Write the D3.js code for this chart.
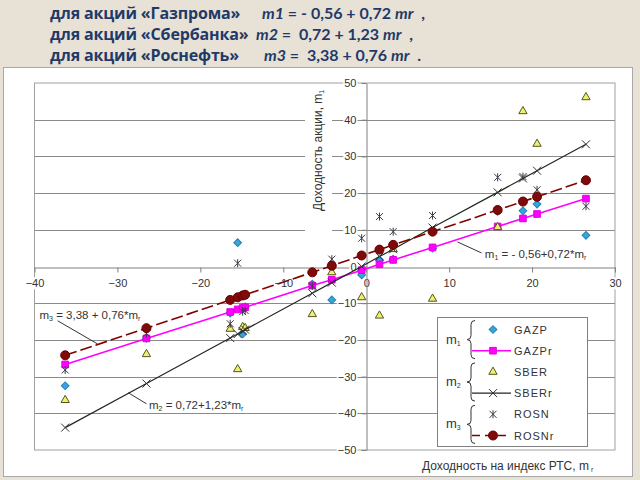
<!DOCTYPE html>
<html>
<head>
<meta charset="utf-8">
<script src="https://cdn.jsdelivr.net/npm/d3@7"></script>
<style>
	body { margin: 0; background: #e8e1d6; }
	svg { display: block; }
	.tick text { font-family: "Liberation Sans", Arial, sans-serif; font-size: 11px; fill: #333; }
</style>
</head>
<body>
<div id="chart-area"></div>
<script>

// Returns of the RTS index (x) and of the three stocks
var marketReturn = [-36.3, -26.5, -16.4, -15.5, -14.9, -14.6, -6.5, -4.15, -0.55, 1.6, 3.25, 8.0, 15.85, 18.9, 20.6, 26.5];
var gazp = [-32.5, -19.5, -12.7, 6.5, -18.4, -11.0, -4.8, -9.1, -2.3, 1.8, 2.0, 5.0, 15.0, 15.2, 17.0, 8.5];
var sber = [-36.4, -23.9, -17.0, -28.0, -16.5, -16.8, -13.0, -1.6, -8.4, -13.4, 4.7, -8.8, 10.7, 42.3, 33.4, 46.1];
var rosn = [-28.2, -18.2, -15.6, 0.9, -12.3, -12.0, -5.3, 2.0, 7.7, 13.6, 9.5, 13.9, 24.3, 24.5, 20.9, 16.4];

// fitted (regression) values as drawn on the chart
var gazpFit = [-26.7, -19.6, -12.4, -11.7, -11.3, -11.1, -5.2, -3.6, -1.0, 0.6, 1.8, 5.2, 10.9, 13.1, 14.3, 18.5];
var sberFit = [-43.9, -31.9, -19.5, -18.4, -17.6, -17.2, -7.3, -4.4, 0.0, 2.7, 4.7, 10.6, 20.2, 24.0, 26.1, 33.3];
var rosnFit = [-24.2, -16.8, -9.1, -8.4, -7.9, -7.7, -1.6, 0.2, 3.0, 4.6, 5.9, 9.5, 15.4, 17.7, 19.0, 23.5];

var xTicks = [-40, -30, -20, -10, 0, 10, 20, 30];
var yTicks = [-50, -40, -30, -20, -10, 0, 10, 20, 30, 40, 50];

var titleCompanies = ["для акций «Газпрома»", "для акций «Сбербанка»", "для акций «Роснефть»"];
var titleEquations = [
	[["m1", true], [" = - 0,56 + 0,72 ", false], ["mr", true], ["  ,", false]],
	[["m2", true], [" =  0,72 + 1,23 ", false], ["mr", true], ["  ,", false]],
	[["m3", true], [" =  3,38 + 0,76 ", false], ["mr", true], ["  .", false]]
];

var seriesNames = ["GAZP", "GAZPr", "SBER", "SBERr", "ROSN", "ROSNr"];
var groupNames = ["1", "2", "3"];

// labels next to the fitted lines: [text before sub, sub, text after, sub, x, y, leader x1, y1, x2, y2] in data units
var notes = [
	["m", "1", " = - 0,56+0,72*m", "r", 14.3, 2.4, 13.9, 3.7, 11.0, 6.7],
	["m", "3", " = 3,38 + 0,76*m", "r", -39.4, -14.3, -37.2, -14.8, -32.4, -21.1],
	["m", "2", " = 0,72+1,23*m", "r", -26.2, -38.9, -26.5, -37.4, -28.7, -34.4]
];

var font = "'Liberation Sans', Arial, sans-serif";

var svg = d3.select("#chart-area").append("svg")
	.attr("width", 640)
	.attr("height", 480);

svg.append("rect")
	.attr("width", 640).attr("height", 480)
	.attr("fill", "#e8e1d6");

// title lines
var titles = svg.append("g")
	.attr("font-weight", "bold")
	.attr("fill", "#1f3a68");
var eqX = [262, 256, 264];
titleCompanies.forEach(function(t, i) {
	var yy = 18.5 + i * 21;
	titles.append("text")
		.attr("x", 50).attr("y", yy)
		.attr("font-family", "'Open Sans', sans-serif")
		.attr("font-size", 16)
		.attr("letter-spacing", -0.15)
		.text(t);
	var eq = titles.append("text")
		.attr("x", eqX[i]).attr("y", yy)
		.attr("font-family", "Lato, sans-serif")
		.attr("font-size", 16)
		.attr("xml:space", "preserve");
	titleEquations[i].forEach(function(p) {
		eq.append("tspan")
			.attr("font-style", p[1] ? "italic" : "normal")
			.text(p[0]);
	});
});

// white frame of the chart
svg.append("rect")
	.attr("x", 3.5).attr("y", 67.5)
	.attr("width", 629).attr("height", 409)
	.attr("fill", "white")
	.attr("stroke", "#a8a8a8");

var x = d3.scaleLinear().domain([-40, 30]).range([34.5, 615]);
var y = d3.scaleLinear().domain([-50, 50]).range([450, 83]);

// gridlines
svg.append("g").selectAll("line")
	.data(yTicks.filter(function(d) { return d !== 0 && Math.abs(d) !== 50; }))
	.enter().append("line")
	.attr("x1", x(-40)).attr("x2", x(30))
	.attr("y1", function(d) { return Math.round(y(d)) + 0.5; })
	.attr("y2", function(d) { return Math.round(y(d)) + 0.5; })
	.attr("stroke", "#8a8a8a");

svg.append("rect")
	.attr("x", x(-40)).attr("y", y(50))
	.attr("width", x(30) - x(-40)).attr("height", y(-50) - y(50))
	.attr("fill", "none")
	.attr("stroke", "#a0a0a0");

// box behind the y axis title
svg.append("rect")
	.attr("x", 305).attr("y", y(50) + 1)
	.attr("width", 27).attr("height", 153)
	.attr("fill", "white");

var xAxis = d3.axisBottom(x).tickValues(xTicks).tickSize(5).tickSizeOuter(0).tickPadding(7)
	.tickFormat(d3.format("d"));
var yAxis = d3.axisLeft(y).tickValues(yTicks).tickSize(5).tickSizeOuter(0).tickPadding(5)
	.tickFormat(d3.format("d"));

var gx = svg.append("g")
	.attr("transform", "translate(0," + (Math.round(y(0)) + 0.5) + ")")
	.call(xAxis);
var gy = svg.append("g")
	.attr("transform", "translate(" + (Math.round(x(0)) + 0.5) + ",0)")
	.call(yAxis);

[gx, gy].forEach(function(g) {
	g.select(".domain").attr("stroke", "#808080");
	g.selectAll(".tick line").attr("stroke", "#808080");
	g.selectAll("text").attr("font-family", null).attr("font-size", null);
	g.selectAll(".tick").each(function() {
		var t = d3.select(this).select("text");
		var b = t.node().getBBox();
		d3.select(this).insert("rect", "text")
			.attr("x", b.x - 1).attr("y", b.y)
			.attr("width", b.width + 2).attr("height", b.height)
			.attr("fill", "white");
	});
});

// marker shapes
var diamond = d3.symbol(d3.symbolSquare, 30)();
var square = d3.symbol(d3.symbolSquare, 44)();
var triangle = d3.symbol(d3.symbolTriangle, 30)();
var cross = "M-4,-4L4,4M-4,4L4,-4";
var star = "M-3.5,-3.5L3.5,3.5M-3.5,3.5L3.5,-3.5M0,-4L0,4";

var styles = {
	GAZP: { path: diamond, rot: 45, fill: "#38a4da", stroke: "#2483b8" },
	GAZPr: { path: square, rot: 0, fill: "#ff00ff", stroke: "#e000e0", line: "#ff00ff", width: 1.6 },
	SBER: { path: triangle, rot: 0, fill: "#eef070", stroke: "#55561e" },
	SBERr: { path: cross, rot: 0, fill: "none", stroke: "#303030", line: "#1d2a1d", width: 1.2 },
	ROSN: { path: star, rot: 0, fill: "none", stroke: "#3c3848" },
	ROSNr: { path: null, rot: 0, fill: "#7f0a0a", stroke: "#6a0000", line: "#800000", width: 1.6, dash: "12,4" }
};

var seriesValues = {
	GAZP: gazp, GAZPr: gazpFit, SBER: sber, SBERr: sberFit, ROSN: rosn, ROSNr: rosnFit
};

var line = d3.line()
	.x(function(d) { return x(d[0]); })
	.y(function(d) { return y(d[1]); });

seriesNames.forEach(function(name) {
	var s = styles[name];
	var pts = marketReturn.map(function(m, i) { return [m, seriesValues[name][i]]; });
	var g = svg.append("g");
	if (s.line) {
		g.append("path")
			.attr("d", line(pts))
			.attr("fill", "none")
			.attr("stroke", s.line)
			.attr("stroke-width", s.width)
			.attr("stroke-dasharray", s.dash || null);
	}
	if (s.path) {
		g.selectAll("path.mark")
			.data(pts)
			.enter().append("path")
			.attr("class", "mark")
			.attr("d", s.path)
			.attr("transform", function(d) { return "translate(" + x(d[0]) + "," + y(d[1]) + ") rotate(" + s.rot + ")"; })
			.attr("fill", s.fill)
			.attr("stroke", s.stroke)
			.attr("stroke-width", 1);
	} else {
		g.selectAll("circle")
			.data(pts)
			.enter().append("circle")
			.attr("cx", function(d) { return x(d[0]); })
			.attr("cy", function(d) { return y(d[1]); })
			.attr("r", 4.5)
			.attr("fill", s.fill)
			.attr("stroke", s.stroke);
	}
});

// labels of the fitted lines
notes.forEach(function(n) {
	svg.append("line")
		.attr("x1", x(n[6])).attr("y1", y(n[7]))
		.attr("x2", x(n[8])).attr("y2", y(n[9]))
		.attr("stroke", "#333");
	var t = svg.append("text")
		.attr("x", x(n[4])).attr("y", y(n[5]))
		.attr("font-family", font)
		.attr("font-size", 11.5)
		.attr("fill", "#333")
		.attr("xml:space", "preserve");
	t.append("tspan").text(n[0]);
	t.append("tspan").attr("font-size", 7).attr("dy", 2).text(n[1]);
	t.append("tspan").attr("dy", -2).text(n[2]);
	t.append("tspan").attr("font-size", 7).attr("dy", 2).text(n[3]);
});

// axis titles
var yt = svg.append("text")
	.attr("transform", "translate(322,211) rotate(-90)")
	.attr("font-family", font)
	.attr("font-size", 12)
	.attr("fill", "#333");
yt.append("tspan").text("Доходность акции, m");
yt.append("tspan").attr("font-size", 7).attr("dy", 2).text("1");

var xt = svg.append("text")
	.attr("x", 422).attr("y", 470)
	.attr("font-family", font)
	.attr("font-size", 12)
	.attr("fill", "#333");
xt.append("tspan").text("Доходность на индекс РТС, m");
xt.append("tspan").attr("font-size", 7).attr("dy", 2).text(" r");

// legend
var legend = svg.append("g");
legend.append("rect")
	.attr("x", 437.5).attr("y", 317.5)
	.attr("width", 150).attr("height", 129)
	.attr("fill", "white")
	.attr("stroke", "#808080");

var rowY = d3.scalePoint().domain(seriesNames).range([329.5, 435.5]);
var markX = 493;

seriesNames.forEach(function(name) {
	var s = styles[name];
	var yy = rowY(name);
	if (s.line) {
		legend.append("line")
			.attr("x1", 472).attr("x2", 511)
			.attr("y1", yy).attr("y2", yy)
			.attr("stroke", s.line)
			.attr("stroke-width", s.width)
			.attr("stroke-dasharray", s.dash ? "8,5" : null);
	}
	if (s.path) {
		legend.append("path")
			.attr("d", s.path)
			.attr("transform", "translate(" + markX + "," + yy + ") rotate(" + s.rot + ")")
			.attr("fill", s.fill)
			.attr("stroke", s.stroke);
	} else {
		legend.append("circle")
			.attr("cx", markX).attr("cy", yy).attr("r", 4.5)
			.attr("fill", s.fill).attr("stroke", s.stroke);
	}
	legend.append("text")
		.attr("x", 514).attr("y", yy + 4)
		.attr("font-family", font)
		.attr("font-size", 11)
		.attr("letter-spacing", 1)
		.attr("fill", "#333")
		.text(name);
});

// braces with m1, m2, m3
groupNames.forEach(function(g, i) {
	var y0 = rowY(seriesNames[2 * i]) - 9;
	var y1 = rowY(seriesNames[2 * i + 1]) + 8;
	var ym = (y0 + y1) / 2;
	legend.append("path")
		.attr("d", "M475," + y0 + " q-4,0 -4,4 L471," + (ym - 4) + " q0,4 -4,4 q4,0 4,4 L471," + (y1 - 4) + " q0,4 4,4")
		.attr("fill", "none")
		.attr("stroke", "#333");
	var t = legend.append("text")
		.attr("x", 446).attr("y", ym + 4)
		.attr("font-family", font)
		.attr("font-size", 13)
		.attr("fill", "#333");
	t.append("tspan").text("m");
	t.append("tspan").attr("font-size", 7).attr("dy", 2).text(g);
});

</script>
</body>
</html>
